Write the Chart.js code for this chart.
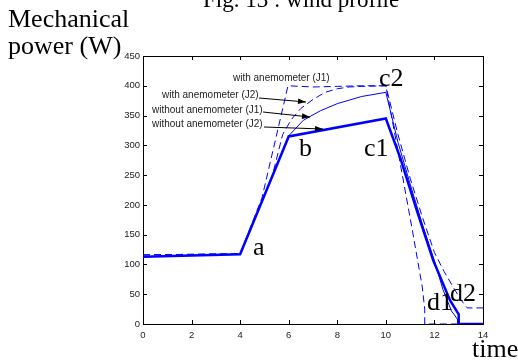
<!DOCTYPE html>
<html>
<head>
<meta charset="utf-8">
<script src="https://cdn.jsdelivr.net/npm/chart.js@4.4.0/dist/chart.umd.min.js"></script>
<style>
  html, body { margin: 0; padding: 0; background: #fff; }
  #wrap { position: relative; width: 518px; height: 361px; }
</style>
</head>
<body>
<div id="wrap"><canvas id="c"></canvas></div>
<script>
// x ticks (time) and y ticks (power, W)
const xTicks = [0, 2, 4, 6, 8, 10, 12, 14];
const yTicks = [0, 50, 100, 150, 200, 250, 300, 350, 400, 450];

// without anemometer (J2) - thick solid
const tWoJ2 = [0, 4, 6, 10, 10.6, 11.27, 11.95, 12.64, 13, 13, 14];
const pWoJ2 = [113, 117, 315, 345, 278, 191, 107, 40, 16, 0, 0];

// without anemometer (J1) - thin solid
const tWoJ1 = [0, 4, 6, 6.6, 7.3, 8, 9, 10, 10.5, 11, 11.5, 12, 12.35, 12.7, 12.95, 12.95, 14];
const pWoJ1 = [113, 117, 316, 342, 358, 370, 382, 389, 305, 235, 168, 106, 58, 22, 8, 0, 0];

// with anemometer (J1) - dashed
const tWJ1 = [0, 4, 4.9, 5.97, 7, 8, 9, 10, 10.5, 11.08, 11.5, 11.6, 11.6, 14];
const pWJ1 = [116, 118, 212, 400, 398, 399, 400, 400, 290, 160, 62, 25, 0, 0];

// with anemometer (J2) - dashed
const tWJ2 = [0, 4, 5.3, 5.75, 6.1, 6.5, 7, 7.5, 8, 8.5, 9, 10, 10.5, 11, 11.5, 12, 12.4, 12.8, 13.1, 13.35, 14];
const pWJ2 = [116, 118, 245, 318, 343, 362, 377, 389, 395, 398, 399, 400, 318, 245, 180, 120, 88, 60, 40, 27, 27];

const pts = (xs, ys) => xs.map((x, i) => ({ x, y: ys[i] }));
const BLUE = '#0000ff';

const frame = {
  id: 'frame',
  beforeDatasetsDraw(chart) {
    const { ctx, chartArea: a, scales: { x, y } } = chart;
    ctx.save();
    ctx.strokeStyle = '#000';
    ctx.lineWidth = 1;
    ctx.strokeRect(a.left + 0.5, a.top + 0.5, a.right - a.left, a.bottom - a.top);
    ctx.beginPath();
    xTicks.forEach(v => {
      const px = Math.round(x.getPixelForValue(v)) + 0.5;
      ctx.moveTo(px, a.bottom); ctx.lineTo(px, a.bottom - 4);
      ctx.moveTo(px, a.top); ctx.lineTo(px, a.top + 4);
    });
    yTicks.forEach(v => {
      const py = Math.round(y.getPixelForValue(v)) + 0.5;
      ctx.moveTo(a.left, py); ctx.lineTo(a.left + 4, py);
      ctx.moveTo(a.right, py); ctx.lineTo(a.right - 4, py);
    });
    ctx.stroke();
    ctx.restore();
  }
};

function arrow(ctx, x1, y1, x2, y2) {
  const ang = Math.atan2(y2 - y1, x2 - x1);
  ctx.beginPath();
  ctx.moveTo(x1, y1); ctx.lineTo(x2, y2);
  ctx.stroke();
  ctx.beginPath();
  ctx.moveTo(x2, y2);
  ctx.lineTo(x2 - 8 * Math.cos(ang) + 2.8 * Math.sin(ang), y2 - 8 * Math.sin(ang) - 2.8 * Math.cos(ang));
  ctx.lineTo(x2 - 8 * Math.cos(ang) - 2.8 * Math.sin(ang), y2 - 8 * Math.sin(ang) + 2.8 * Math.cos(ang));
  ctx.closePath();
  ctx.fill();
}

const notes = {
  id: 'notes',
  afterDraw(chart) {
    const ctx = chart.ctx;
    ctx.save();
    ctx.fillStyle = '#000';
    ctx.strokeStyle = '#000';
    ctx.lineWidth = 1;
    ctx.textBaseline = 'alphabetic';
    ctx.textAlign = 'left';

    ctx.font = '23px "Liberation Serif"';
    ctx.fillText('Fig. 13 : wind profile', 203, 7);
    ctx.font = '26px "Liberation Serif"';
    ctx.fillText('Mechanical', 8, 27);
    ctx.fillText('power (W)', 8, 54);
    ctx.fillText('time', 472, 357);
    ctx.fillText('a', 253, 255);
    ctx.fillText('b', 299, 156);
    ctx.fillText('c1', 364, 156);
    ctx.fillText('c2', 379, 86);
    ctx.fillText('d1', 427, 310);
    ctx.fillText('d2', 450, 301);

    ctx.font = '10px "Liberation Sans"';
    ctx.fillStyle = '#222';
    ctx.fillText('with anemometer (J1)', 233, 81);
    ctx.fillText('with anemometer (J2)', 162, 98);
    ctx.fillText('without anemometer (J1)', 152, 113);
    ctx.fillText('without anemometer (J2)', 152, 127);
    ctx.fillStyle = '#000';
    arrow(ctx, 259, 98, 306, 102);
    arrow(ctx, 263, 112, 310, 117);
    arrow(ctx, 264, 127, 323, 129);
    ctx.restore();
  }
};

new Chart(document.getElementById('c'), {
  type: 'line',
  data: {
    datasets: [
      { label: 'with anemometer (J1)', data: pts(tWJ1, pWJ1), borderColor: BLUE, borderWidth: 1, borderDash: [7, 4] },
      { label: 'with anemometer (J2)', data: pts(tWJ2, pWJ2), borderColor: BLUE, borderWidth: 1, borderDash: [7, 4] },
      { label: 'without anemometer (J1)', data: pts(tWoJ1, pWoJ1), borderColor: BLUE, borderWidth: 1 },
      { label: 'without anemometer (J2)', data: pts(tWoJ2, pWoJ2), borderColor: BLUE, borderWidth: 2.5 },
    ]
  },
  options: {
    responsive: true, maintainAspectRatio: false, animation: false,
    layout: { padding: { top: 56, right: 35, left: 0, bottom: 0 } },
    elements: { point: { radius: 0 }, line: { tension: 0, fill: false } },
    plugins: { legend: { display: false }, tooltip: { enabled: false } },
    scales: {
      x: { type: 'linear', min: 0, max: 14,
        afterFit: s => { s.height = 37; },
        afterBuildTicks: s => { s.ticks = xTicks.map(v => ({ value: v })); },
        grid: { display: false, drawTicks: false }, border: { display: false },
        ticks: { color: '#222', padding: 6, maxRotation: 0, font: { family: 'Liberation Sans', size: 9.5 } } },
      y: { min: 0, max: 450,
        afterFit: s => { s.width = 143; },
        afterBuildTicks: s => { s.ticks = yTicks.map(v => ({ value: v })); },
        grid: { display: false, drawTicks: false }, border: { display: false },
        ticks: { color: '#222', padding: 3, font: { family: 'Liberation Sans', size: 9.5 } } }
    }
  },
  plugins: [frame, notes]
});
</script>
</body>
</html>
